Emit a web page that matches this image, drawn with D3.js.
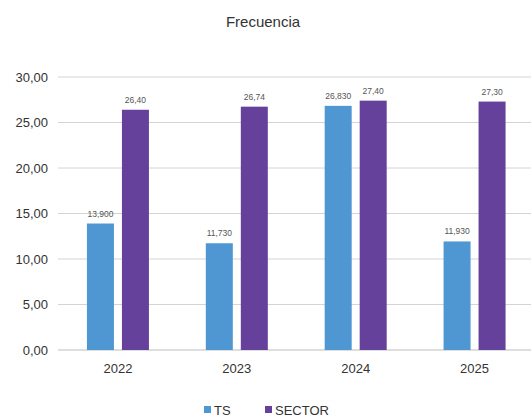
<!DOCTYPE html>
<html>
<head>
<meta charset="utf-8">
<script src="https://cdn.jsdelivr.net/npm/d3@7"></script>
<style>
  body { margin: 0; background: #fff; }
  text { font-family: "Liberation Sans", Arial, sans-serif; }
</style>
</head>
<body>
<script>
// chart data
const years = ["2022", "2023", "2024", "2025"];
const seriesNames = ["TS", "SECTOR"];
const tsValues = [13.9, 11.73, 26.83, 11.93];
const sectorValues = [26.40, 26.74, 27.40, 27.30];
const tsLabels = ["13,900", "11,730", "26,830", "11,930"];
const sectorLabels = ["26,40", "26,74", "27,40", "27,30"];
const yTicks = [0, 5, 10, 15, 20, 25, 30];

const colors = { TS: "#4f97d3", SECTOR: "#65419b" };

const width = 531;
const height = 418;

const svg = d3.select("body")
  .append("svg")
  .attr("width", width)
  .attr("height", height);

const x = d3.scaleBand().domain(years).range([58.5, 534]);
const y = d3.scaleLinear().domain([0, 30]).range([350, 77]);

// gridlines + y labels
svg.append("g")
  .selectAll("line")
  .data(yTicks)
  .join("line")
  .attr("x1", 58)
  .attr("x2", width)
  .attr("y1", (d) => y(d))
  .attr("y2", (d) => y(d))
  .attr("stroke", (d) => d === 0 ? "#bdbdbd" : "#d4d4d4")
  .attr("stroke-width", 1);

svg.append("g")
  .selectAll("text")
  .data(yTicks)
  .join("text")
  .attr("x", 48)
  .attr("y", (d) => y(d) + 4.5)
  .attr("text-anchor", "end")
  .attr("font-size", 13)
  .attr("fill", "#333")
  .text((d) => d3.format(".2f")(d).replace(".", ","));

// bars
const barW = 27;
const gap = 8;
const rows = years.map((yr, i) => ({
  year: yr,
  vals: [
    { key: "TS", v: tsValues[i], label: tsLabels[i] },
    { key: "SECTOR", v: sectorValues[i], label: sectorLabels[i] }
  ]
}));

const groups = svg.append("g")
  .selectAll("g")
  .data(rows)
  .join("g")
  .attr("transform", (d) => `translate(${x(d.year) + x.bandwidth() / 2 - barW - gap / 2},0)`);

groups.selectAll("rect")
  .data((d) => d.vals)
  .join("rect")
  .attr("x", (d, j) => j * (barW + gap))
  .attr("y", (d) => y(d.v))
  .attr("width", barW)
  .attr("height", (d) => y(0) - y(d.v))
  .attr("fill", (d) => colors[d.key]);

groups.selectAll("text")
  .data((d) => d.vals)
  .join("text")
  .attr("x", (d, j) => j * (barW + gap) + barW / 2)
  .attr("y", (d) => y(d.v) - 7)
  .attr("text-anchor", "middle")
  .attr("font-size", 8.5)
  .attr("fill", "#555")
  .text((d) => d.label);

// x labels
svg.append("g")
  .selectAll("text")
  .data(years)
  .join("text")
  .attr("x", (d) => x(d) + x.bandwidth() / 2)
  .attr("y", 373)
  .attr("text-anchor", "middle")
  .attr("font-size", 13)
  .attr("fill", "#333")
  .text((d) => d);

// title
svg.append("text")
  .attr("x", 263)
  .attr("y", 27)
  .attr("text-anchor", "middle")
  .attr("font-size", 15)
  .attr("fill", "#333")
  .text("Frecuencia");

// legend
const legendX = [204, 265];
const legend = svg.append("g")
  .selectAll("g")
  .data(seriesNames)
  .join("g")
  .attr("transform", (d, i) => `translate(${legendX[i]},406)`);

legend.append("rect")
  .attr("width", 7)
  .attr("height", 7)
  .attr("fill", (d) => colors[d]);

legend.append("text")
  .attr("x", 10)
  .attr("y", 9)
  .attr("font-size", 13)
  .attr("fill", "#333")
  .text((d) => d);
</script>
</body>
</html>
